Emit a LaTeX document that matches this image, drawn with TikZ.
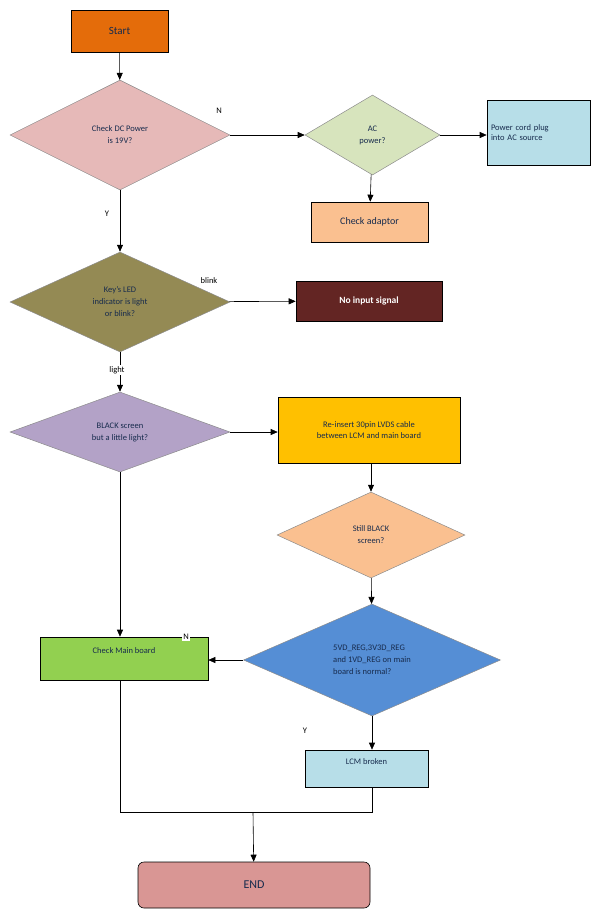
\documentclass[tikz,border=0pt]{standalone}
\usepackage{fontspec}
\setmainfont{Carlito}
\usetikzlibrary{shapes.geometric,arrows.meta}
\definecolor{startc}{RGB}{228,108,10}
\definecolor{pinkc}{RGB}{230,185,184}
\definecolor{greenl}{RGB}{215,228,189}
\definecolor{bluel}{RGB}{183,222,232}
\definecolor{peach}{RGB}{250,192,144}
\definecolor{olive}{RGB}{148,138,84}
\definecolor{darkred}{RGB}{99,37,35}
\definecolor{lav}{RGB}{179,162,199}
\definecolor{amber}{RGB}{255,192,0}
\definecolor{bluem}{RGB}{85,142,213}
\definecolor{greenm}{RGB}{146,208,80}
\definecolor{endc}{RGB}{217,150,148}
\definecolor{txt}{RGB}{23,43,77}
\tikzset{every picture/.style={line width=0.75pt}}
\tikzset{
  box/.style={draw=black, line width=0.6pt, rectangle, inner sep=2pt, font=\fontsize{8.5}{10.5}\selectfont, text=txt, align=center},
  dec/.style={diamond, draw=black!45, line width=0.5pt, inner sep=0pt, font=\fontsize{8.5}{12}\selectfont, text=txt, align=center},
  lbl/.style={fill=white, inner sep=1.5pt, font=\fontsize{8.5}{10}\selectfont, text=black},
  arr/.style={-{Triangle[width=6pt,length=7pt]}, line width=0.6pt},
  ln/.style={line width=0.6pt}
}
\begin{document}
\begin{tikzpicture}[x=1pt,y=1pt,yscale=-1]
\useasboundingbox (0,0) rectangle (606,914);

% boxes
\node[box, fill=startc, minimum width=97, minimum height=42, font=\fontsize{11}{13}\selectfont] (start) at (119.5,31) {Start};
\node[box, fill=bluel, minimum width=103, minimum height=65, text width=95, align=left] (cord) at (538.5,132.5) {Power cord plug\\into AC source};
\node[box, fill=peach, minimum width=117, minimum height=40, font=\fontsize{10}{12}\selectfont] (adapt) at (369.5,222) {Check adaptor};
\node[box, fill=darkred, minimum width=146, minimum height=40, text=white, font=\bfseries\fontsize{9.5}{11}\selectfont] (noinput) at (369,301) {No input signal};
\node[box, fill=amber, minimum width=182, minimum height=66] (reins) at (369,430) {Re-insert 30pin LVDS cable\\between LCM and main board};
\node[box, fill=greenm, minimum width=168, minimum height=43] (mainb) at (124,658.5) {Check Main board\\[6pt]};
\node[box, fill=bluel, minimum width=123, minimum height=37] (lcm) at (366.5,768.5) {LCM broken\\[4pt]};
\node[box, fill=endc, rounded corners=6pt, minimum width=232, minimum height=46, font=\fontsize{12}{14}\selectfont] (end) at (254,885) {END};

% decisions
\node[dec, fill=pinkc, minimum width=220, minimum height=110] (dc) at (120,135) {Check DC Power\\is 19V?};
\node[dec, fill=greenl, minimum width=135, minimum height=80] (ac) at (372.5,135) {AC\\power?};
\node[dec, fill=olive, minimum width=220, minimum height=100] (led) at (120,302) {Key's LED\\indicator is light\\or blink?};
\node[dec, fill=lav, minimum width=220, minimum height=80] (black) at (120,432) {BLACK screen\\but a little light?};
\node[dec, fill=peach, minimum width=188, minimum height=86] (still) at (371,535) {Still BLACK\\screen?};
\node[dec, fill=bluem, minimum width=257, minimum height=112, align=left] (reg) at (372,660) {5VD\_REG,3V3D\_REG\\and 1VD\_REG on main\\board is normal?};

% connectors
\draw[arr] (start) -- (dc);
\draw[arr] (dc) -- (ac);
\draw[arr] (ac) -- (cord.west |- ac);
\draw[arr] (ac) -- (adapt);
\draw[arr] (dc) -- (led);
\draw[arr] (led) -- (noinput);
\draw[arr] (led) -- (black);
\draw[arr] (black) -- (reins.west |- black);
\draw[arr] (black) -- (mainb.north -| black);
\draw[arr] (reins.south -| still) -- (still);
\draw[arr] (still) -- (reg);
\draw[arr] (reg) -- (mainb.east |- reg);
\draw[arr] (reg.south) -- (lcm.north -| reg.south);
\coordinate (join) at (253,812);
\draw[ln] (mainb.south -| black) |- (join) -| (lcm.south -| reg.south);
\draw[arr] (join) -- (end);

% labels
\node[lbl] (ln1) at (219,111) {N};
\node[lbl] (ly1) at (107,214) {Y};
\node[lbl] (lbk) at (209,281) {blink};
\node[lbl] (llt) at (117,370) {light};
\node[lbl] (ln2) at (186,637) {N};
\node[lbl] (ly2) at (305,731) {Y};
\end{tikzpicture}
\end{document}
